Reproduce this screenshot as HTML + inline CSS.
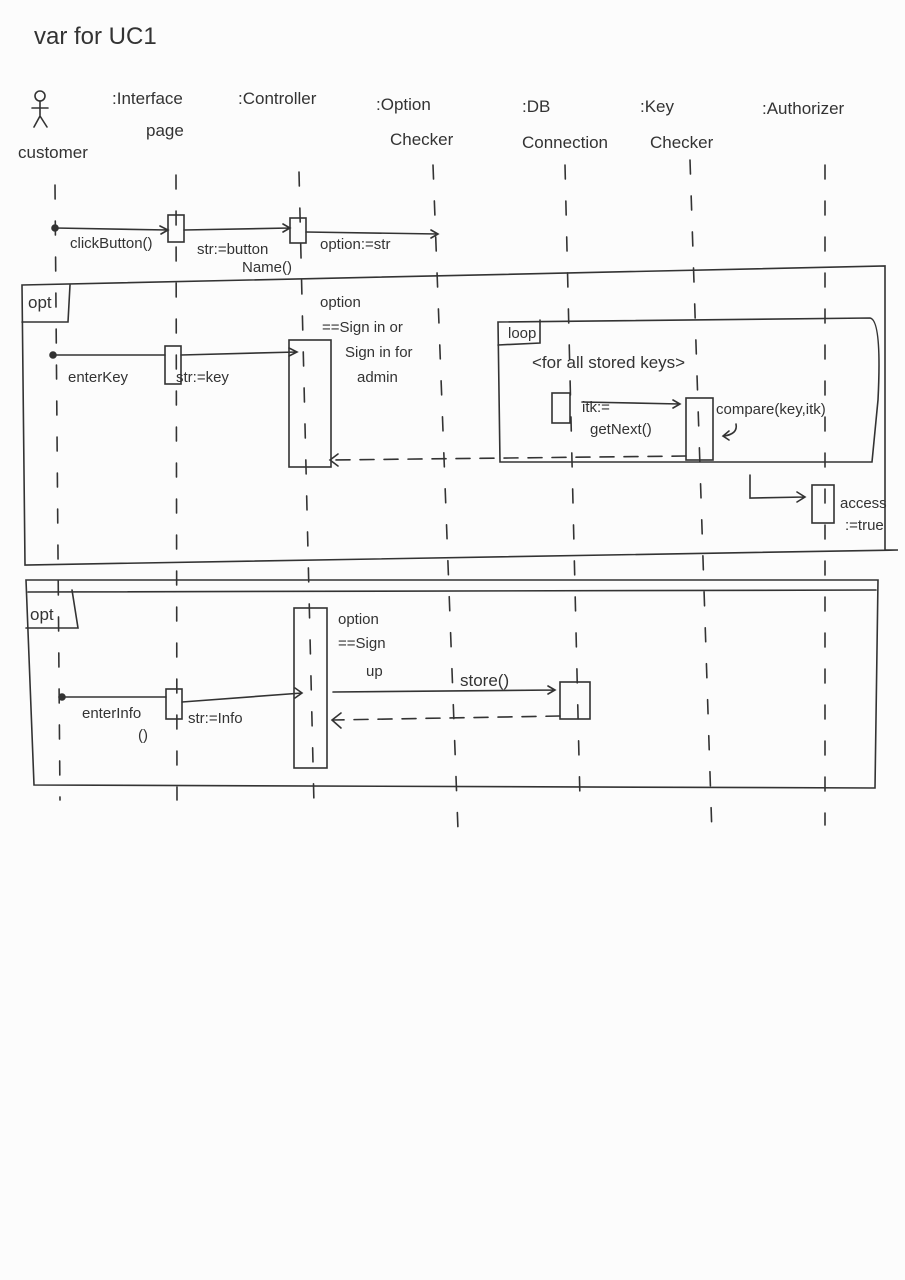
<!DOCTYPE html>
<html><head><meta charset="utf-8"><style>
html,body{margin:0;padding:0;background:#fcfcfc;}
svg{display:block}
text{font-family:"Liberation Sans",sans-serif;fill:#333;font-size:17px}
.s{font-size:15px}
</style></head><body>
<svg width="905" height="1280" viewBox="0 0 905 1280" xmlns="http://www.w3.org/2000/svg">
<g stroke="#333" stroke-width="1.6" fill="none" stroke-linecap="round">
<!-- lifelines -->
<line x1="55" y1="185" x2="60" y2="800" stroke-dasharray="14,22"/>
<line x1="176" y1="175" x2="177" y2="800" stroke-dasharray="14,22"/>
<line x1="299" y1="172" x2="314" y2="805" stroke-dasharray="14,22"/>
<line x1="433" y1="165" x2="458" y2="830" stroke-dasharray="14,22"/>
<line x1="565" y1="165" x2="580" y2="800" stroke-dasharray="14,22"/>
<line x1="690" y1="160" x2="712" y2="835" stroke-dasharray="14,22"/>
<line x1="825" y1="165" x2="825" y2="825" stroke-dasharray="14,22"/>
<!-- actor -->
<circle cx="40" cy="96" r="5"/>
<path d="M40 101 L40 116 M32 108 L48 108 M40 116 L34 127 M40 116 L47 127"/>
<!-- first messages -->
<path d="M55 228 L168 230 M160 226 L168 230 L161 234"/>
<rect x="168" y="215" width="16" height="27"/>
<path d="M184 230 L290 228 M283 224 L290 228 L283 232"/>
<rect x="290" y="218" width="16" height="25"/>
<path d="M306 232 L438 234 M431 230 L438 234 L431 238"/>
<circle cx="55" cy="228" r="3" fill="#333"/>
<!-- opt frame 1 -->
<path d="M22 285 L885 266 L885 550 L898 550 L25 565 Z"/>
<path d="M22 322 L68 322 L70 285"/>
<!-- enterkey -->
<circle cx="53" cy="355" r="3" fill="#333"/>
<path d="M53 355 L165 355"/>
<rect x="165" y="346" width="16" height="38"/>
<path d="M181 355 L297 352 M289 348 L297 352 L289 356"/>
<rect x="289" y="340" width="42" height="127"/>
<!-- loop frame -->
<path d="M498 322 L870 318 Q882 320 878 400 L872 462 L500 462 Z"/>
<path d="M498 345 L540 343 L540 320"/>
<rect x="552" y="393" width="18" height="30"/>
<path d="M582 402 L680 404 M673 400 L680 404 L673 408"/>
<rect x="686" y="398" width="27" height="62"/>
<path d="M736 424 Q738 434 724 436 M729 431 L723 436 L729 440"/>
<path d="M686 456 L330 460" stroke-dasharray="14,10"/>
<path d="M338 454 L330 460 L338 466"/>
<path d="M750 475 L750 498 L805 497 M797 492 L805 497 L797 502"/>
<rect x="812" y="485" width="22" height="38"/>
<!-- opt frame 2 -->
<path d="M26 580 L878 580 L875 788 L34 785 Z"/>
<path d="M28 592 L876 590"/>
<path d="M26 628 L78 628 L72 590"/>
<rect x="294" y="608" width="33" height="160"/>
<circle cx="62" cy="697" r="3" fill="#333"/>
<path d="M62 697 L166 697"/>
<rect x="166" y="689" width="16" height="30"/>
<path d="M182 702 L302 693 M295 688 L302 693 L295 698"/>
<path d="M333 692 L555 690 M548 686 L555 690 L548 694"/>
<rect x="560" y="682" width="30" height="37"/>
<path d="M560 716 L333 720" stroke-dasharray="14,10"/>
<path d="M341 713 L332 720 L341 728"/>
</g>
<text x="34" y="44" style="font-size:24px">var for UC1</text>
<text x="112" y="104">:Interface</text>
<text x="146" y="136">page</text>
<text x="238" y="104">:Controller</text>
<text x="376" y="110">:Option</text>
<text x="390" y="145">Checker</text>
<text x="522" y="112">:DB</text>
<text x="522" y="148">Connection</text>
<text x="640" y="112">:Key</text>
<text x="650" y="148">Checker</text>
<text x="762" y="114">:Authorizer</text>
<text x="18" y="158">customer</text>
<text class="s" x="70" y="248">clickButton()</text>
<text class="s" x="197" y="254">str:=button</text>
<text class="s" x="242" y="272">Name()</text>
<text class="s" x="320" y="249">option:=str</text>
<text x="28" y="308">opt</text>
<text class="s" x="320" y="307">option</text>
<text class="s" x="322" y="332">==Sign in or</text>
<text class="s" x="345" y="357">Sign in for</text>
<text class="s" x="357" y="382">admin</text>
<text class="s" x="68" y="382">enterKey</text>
<text class="s" x="176" y="382">str:=key</text>
<text class="s" x="508" y="338">loop</text>
<text x="532" y="368">&lt;for all stored keys&gt;</text>
<text class="s" x="582" y="412">itk:=</text>
<text class="s" x="590" y="434">getNext()</text>
<text class="s" x="716" y="414">compare(key,itk)</text>
<text class="s" x="840" y="508">access</text>
<text class="s" x="845" y="530">:=true</text>
<text x="30" y="620">opt</text>
<text class="s" x="338" y="624">option</text>
<text class="s" x="338" y="648">==Sign</text>
<text class="s" x="366" y="676">up</text>
<text class="s" x="82" y="718">enterInfo</text>
<text class="s" x="138" y="740">()</text>
<text class="s" x="188" y="723">str:=Info</text>
<text x="460" y="686">store()</text>
</svg>
</body></html>
